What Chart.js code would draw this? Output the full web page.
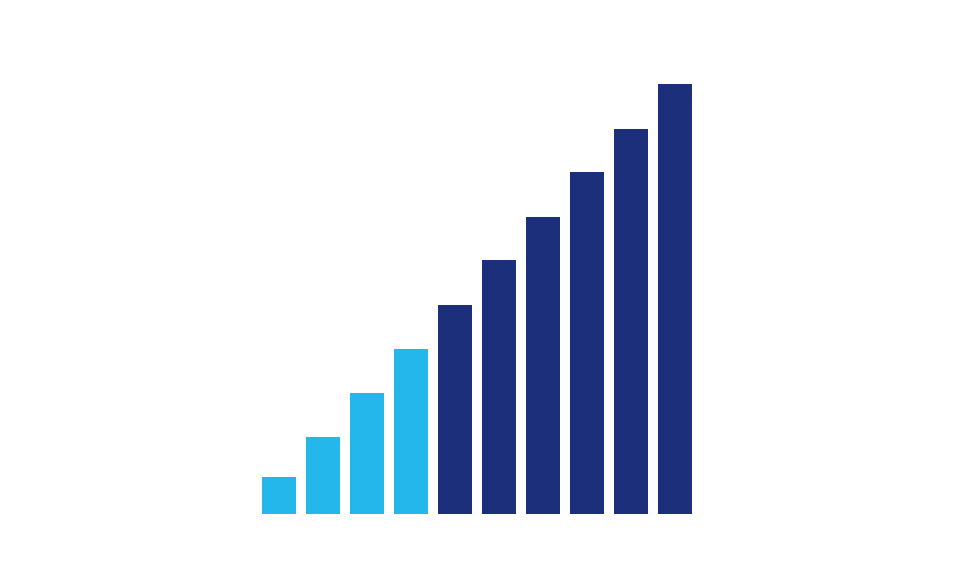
<!DOCTYPE html>
<html>
<head>
<meta charset="utf-8">
<script src="https://cdn.jsdelivr.net/npm/chart.js@4/dist/chart.umd.min.js"></script>
<style>
html,body{margin:0;padding:0;background:#fff;}
#wrap{width:980px;height:580px;position:relative;}
</style>
</head>
<body>
<div id="wrap"><canvas id="c" width="980" height="580"></canvas></div>
<script>
const categories = ["1","2","3","4","5","6","7","8","9","10"];
const values = [37, 77, 121, 165, 209, 254, 297, 342, 385, 430];
const barColors = ["#24b7eb","#24b7eb","#24b7eb","#24b7eb","#1b2f7b","#1b2f7b","#1b2f7b","#1b2f7b","#1b2f7b","#1b2f7b"];

new Chart(document.getElementById('c'), {
  type: 'bar',
  data: {
    labels: categories,
    datasets: [{
      data: values,
      backgroundColor: barColors,
      borderWidth: 0,
      barPercentage: 34/44,
      categoryPercentage: 1
    }]
  },
  options: {
    responsive: false,
    animation: false,
    layout: { padding: { left: 257, right: 283, top: 84, bottom: 66 } },
    plugins: { legend: { display: false }, tooltip: { enabled: false } },
    scales: {
      x: { display: false },
      y: { display: false, min: 0, max: 430 }
    }
  }
});
</script>
</body>
</html>
